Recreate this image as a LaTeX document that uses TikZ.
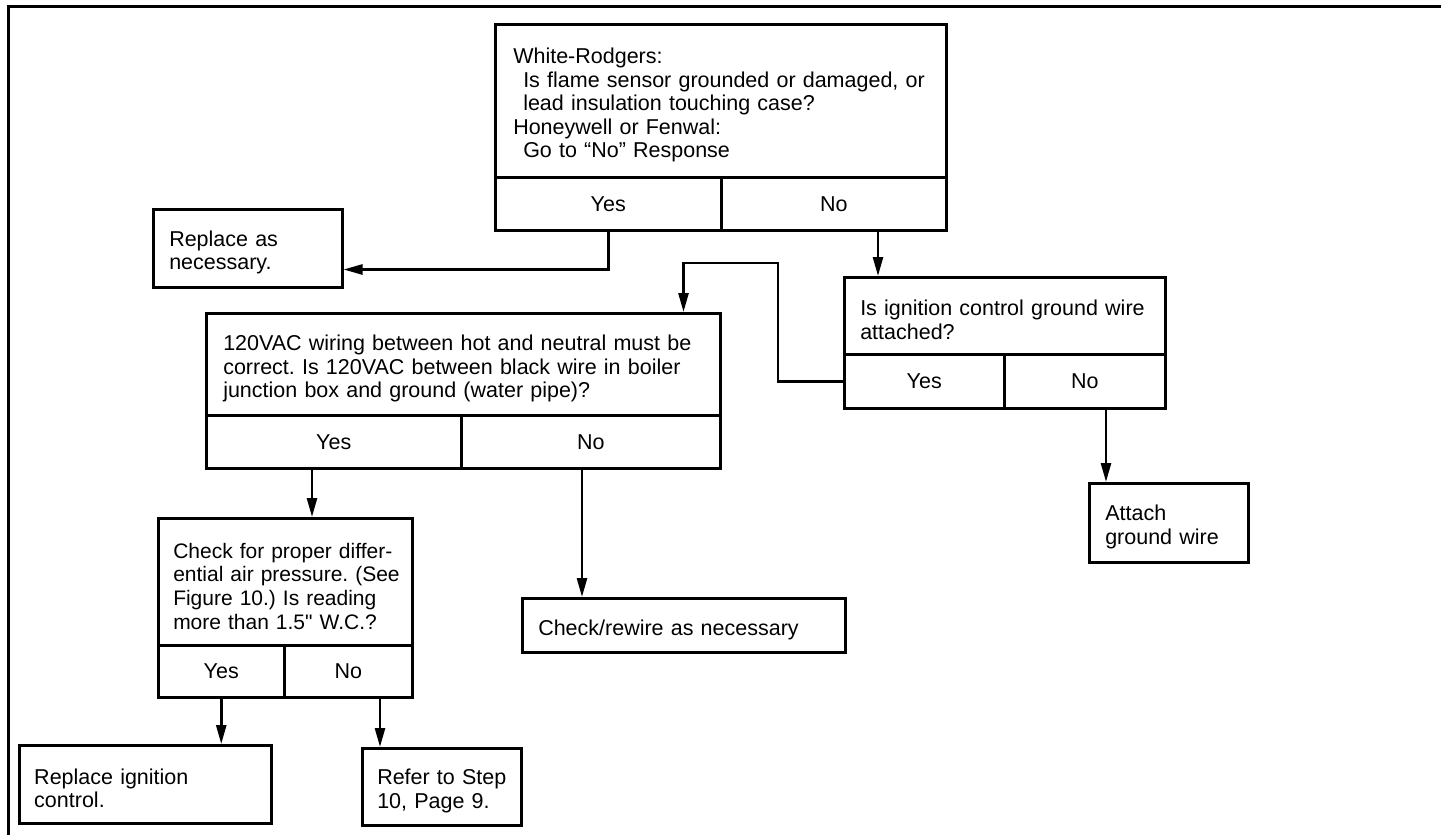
\documentclass[tikz,border=0pt]{standalone}
\usepackage{fontspec}
\setmainfont{Liberation Sans}
\usetikzlibrary{arrows.meta}
\frenchspacing
\newcommand\fs{\fontsize{21.5pt}{23.5pt}\selectfont}
\newcommand\fq{\fontsize{21pt}{23.7pt}\selectfont}
\newcommand\lift{\rule{0pt}{24pt}}
\tikzset{
  box/.style={draw, line width=2.5pt, inner ysep=0pt, anchor=north west, font=\fs, align=left,
    execute at begin node=\lift},
  cell/.style={draw, line width=2.5pt, inner sep=0pt, anchor=north west, font=\fs, align=center},
  arr/.style={line width=2.6pt, -{Triangle[length=19pt,width=10pt]}},
  frame/.style={line width=3pt},
}
\begin{document}
\begin{tikzpicture}[x=1pt,y=-1pt]
\useasboundingbox (0,0) rectangle (1441,835);
% frame
\coordinate (f1) at (8,835);
\coordinate (f2) at (8,6);
\coordinate (f3) at (1441,6);
\draw[frame] (f1) -- (f2) -- (f3);

% Q1
\node[box, minimum width=451pt, minimum height=153pt, text width=415pt, inner xsep=18pt] (q1t) at (494,23)
  {White-Rodgers:\\\hspace*{10pt}Is flame sensor grounded or damaged, or\\\hspace*{10pt}lead insulation touching case?\\Honeywell or Fenwal:\\\hspace*{10pt}Go to ``No'' Response};
\node[cell, minimum width=226pt, minimum height=53pt] (q1y) at (494,176) {Yes};
\node[cell, minimum width=225pt, minimum height=53pt] (q1n) at (720,176) {No};

% Replace as necessary
\node[box, minimum width=189pt, minimum height=78pt, text width=157pt, inner xsep=16pt] (rep) at (152,208)
  {\mbox{Replace as}\\\mbox{necessary.}};

% Q2
\node[box, minimum width=321pt, minimum height=77pt, text width=289pt, inner xsep=16pt] (q2t) at (843,276)
  {\mbox{Is ignition control ground wire}\\attached?};
\node[cell, minimum width=160pt, minimum height=54pt] (q2y) at (843,353) {Yes};
\node[cell, minimum width=161pt, minimum height=54pt] (q2n) at (1003,353) {No};

% Attach ground wire
\node[box, minimum width=159pt, minimum height=79pt, text width=127pt, inner xsep=16pt] (att) at (1088,482)
  {\mbox{Attach}\\\mbox{ground wire}};

% Q3
\node[box, minimum width=514pt, minimum height=102pt, text width=480pt, inner xsep=17pt] (q3t) at (205,312)
  {\mbox{120VAC wiring between hot and neutral must be}\\\mbox{correct. Is 120VAC between black wire in boiler}\\\mbox{junction box and ground (water pipe)?}};
\node[cell, minimum width=255pt, minimum height=53pt] (q3y) at (205,414) {Yes};
\node[cell, minimum width=259pt, minimum height=53pt] (q3n) at (460,414) {No};

% Check/rewire
\node[box, minimum width=323pt, minimum height=54pt, text width=291pt, inner xsep=16pt] (chk) at (521,597)
  {\mbox{Check/rewire as necessary}};

% Q4
\node[box, font=\fq, minimum width=254pt, minimum height=127pt, text width=224pt, inner xsep=15pt] (q4t) at (157,517)
  {\makebox[224pt][s]{Check for proper differ-}\\\makebox[224pt][s]{ential air pressure. (See}\\\makebox[224pt][s]{Figure 10.) Is reading}\\\mbox{more than 1.5\textquotedbl{} W.C.?}};
\node[cell, minimum width=126pt, minimum height=52pt] (q4y) at (157,644) {Yes};
\node[cell, minimum width=128pt, minimum height=52pt] (q4n) at (283,644) {No};

% Replace ignition control
\node[box, minimum width=252pt, minimum height=78pt, text width=222pt, inner xsep=15pt] (rig) at (18,744)
  {\mbox{Replace ignition}\\\mbox{control.}};

% Refer to Step 10
\node[box, minimum width=159pt, minimum height=77pt, text width=129pt, inner xsep=15pt] (ref) at (361,747)
  {\mbox{Refer to Step}\\\mbox{10, Page 9.}};

% connectors
\draw[arr] (q1y.south) |- ([yshift=19pt]rep.south east);
\draw[arr] ([xshift=35pt]q2t.north west |- q1n.south) -- ([xshift=35pt]q2t.north west);
\coordinate (j1) at (778,263);
\draw[arr] (q2y.west) -| (j1) -| ([xshift=-38pt]q3t.north east);
\draw[arr] ([xshift=18pt]att.north west |- q2n.south) -- ([xshift=18pt]att.north west);
\draw[arr] ([xshift=107pt]q3y.south west) -- ([xshift=107pt]q3y.south west |- q4t.north);
\draw[arr] ([xshift=122pt]q3n.south west) -- ([xshift=122pt]q3n.south west |- chk.north);
\draw[arr] (q4y.south) -- (q4y.south |- rig.north);
\draw[arr] ([xshift=19pt]ref.north west |- q4n.south) -- ([xshift=19pt]ref.north west);
\end{tikzpicture}
\end{document}
